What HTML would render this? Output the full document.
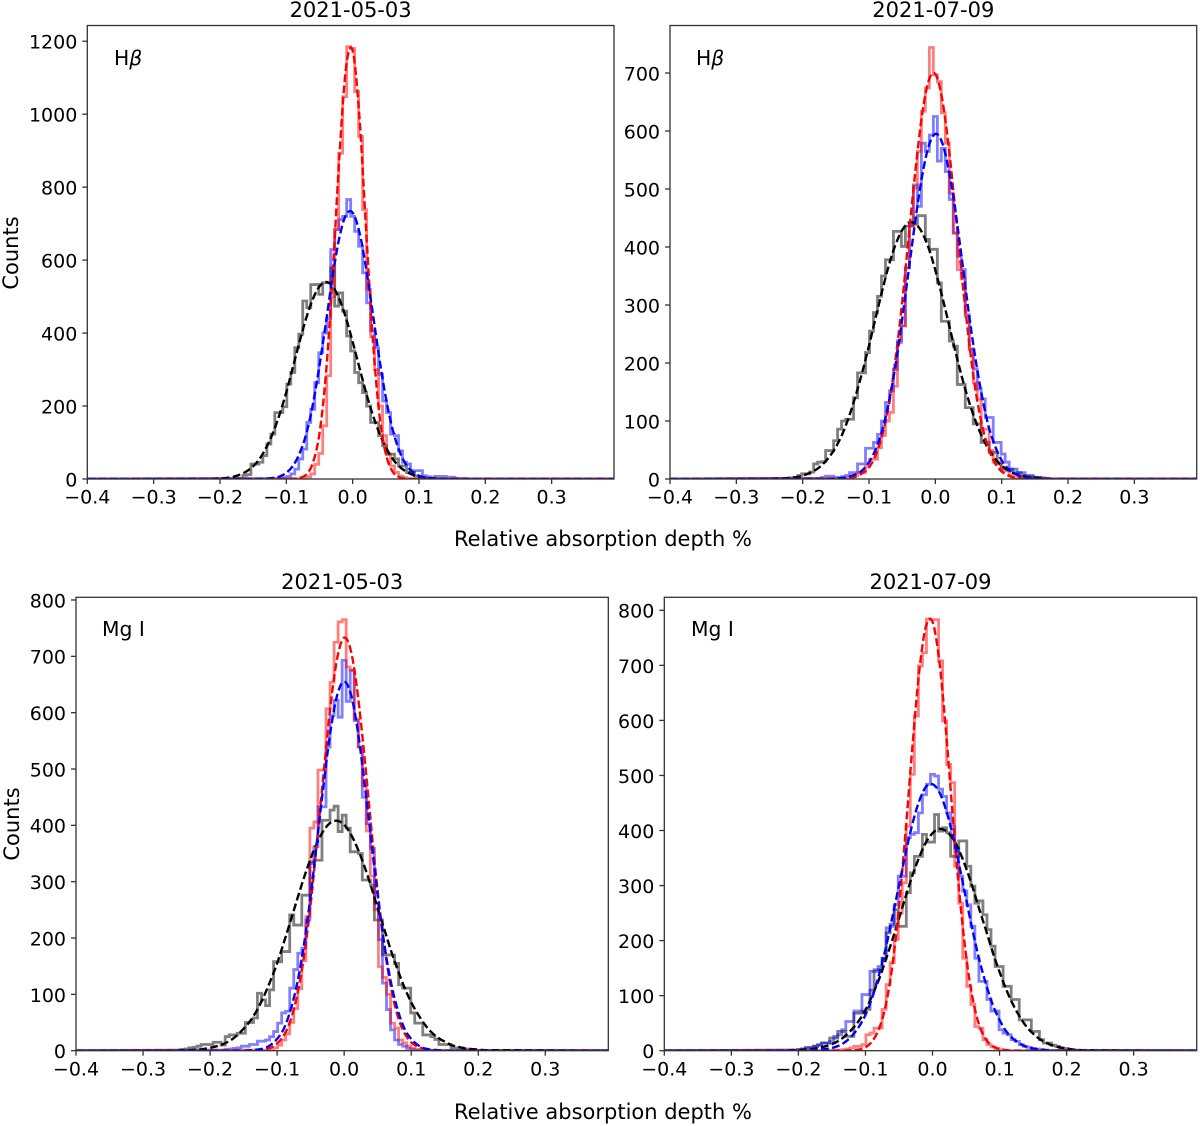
<!DOCTYPE html>
<html lang="en">
<head>
<meta charset="utf-8">
<title>Relative absorption depth histograms</title>
<style>
html,body{margin:0;padding:0;background:#fff;}
svg{display:block;font-family:"DejaVu Sans","Liberation Sans",sans-serif;fill:#000;}
</style>
</head>
<body>
<svg id="figure" xmlns="http://www.w3.org/2000/svg" width="1200" height="1126" viewBox="0 0 1200 1126">
  <rect x="0" y="0" width="1200" height="1126" fill="#fff"/>
  <text x="350.6" y="17" font-size="21" text-anchor="middle">2021-05-03</text>
  <text x="933.3" y="17" font-size="21" text-anchor="middle">2021-07-09</text>
  <text x="342.2" y="589" font-size="21" text-anchor="middle">2021-05-03</text>
  <text x="930.5" y="589" font-size="21" text-anchor="middle">2021-07-09</text>
  <text x="114" y="65" font-size="20.3">H<tspan font-style="italic">β</tspan></text>
  <text x="696" y="65" font-size="20.3">H<tspan font-style="italic">β</tspan></text>
  <text x="102" y="636" font-size="20.3">Mg I</text>
  <text x="691" y="636" font-size="20.3">Mg I</text>
  <text transform="translate(18 253) rotate(-90)" font-size="21" text-anchor="middle">Counts</text>
  <text transform="translate(19 824) rotate(-90)" font-size="21" text-anchor="middle">Counts</text>
  <text x="603" y="546" font-size="21" text-anchor="middle">Relative absorption depth %</text>
  <text x="603" y="1119" font-size="21" text-anchor="middle">Relative absorption depth %</text>
</svg>
<script>
// Shared axis data
const xTickValues = [-0.4, -0.3, -0.2, -0.1, 0, 0.1, 0.2, 0.3];
const xTickLabels = ["\u22120.4", "\u22120.3", "\u22120.2", "\u22120.1", "0.0", "0.1", "0.2", "0.3"];
const yTicksHbetaMay = [0, 200, 400, 600, 800, 1000, 1200];
const yTicksHbetaJuly = [0, 100, 200, 300, 400, 500, 600, 700];
const yTicksMgMay = [0, 100, 200, 300, 400, 500, 600, 700, 800];
const yTicksMgJuly = [0, 100, 200, 300, 400, 500, 600, 700, 800];
const xDomainMin = -0.4;
const xDomainMax = 0.394;
const binWidth = 0.8 / 133;

// Grid on which the dashed fit curves were read
const fitGrid = [-0.26,-0.25,-0.24,-0.23,-0.22,-0.21,-0.20,-0.19,-0.18,-0.17,-0.16,-0.15,-0.14,-0.13,-0.12,-0.11,-0.10,-0.09,-0.08,-0.07,-0.06,-0.05,-0.04,-0.03,-0.02,-0.01,0,0.01,0.02,0.03,0.04,0.05,0.06,0.07,0.08,0.09,0.10,0.11,0.12,0.13,0.14,0.15,0.16,0.17,0.18,0.19,0.20,0.21,0.22];

// Histogram counts; each array begins at the signed bin number in its "first" constant (bin 0 is centred on 0)
const firstHbMayRed = -13;
const histHbMayRed = [1,2,6,14,40,70,146,283,500,684,893,1048,1185,1180,1062,939,738,520,390,300,200,119,68,36,18,8,4,1];
const firstHbMayBlue = -19;
const histHbMayBlue = [1,2,4,7,14,27,55,82,155,191,264,346,400,440,629,684,711,720,766,720,679,638,565,483,406,360,287,214,182,123,119,77,46,41,23,23,23,9,6,4,7,7,7,5,5,2,1,1];
const firstHbMayBlack = -30;
const histHbMayBlack = [1,1,2,10,12,41,41,46,64,96,123,182,182,198,260,292,360,397,488,470,533,533,506,538,538,579,474,510,460,392,351,292,264,237,200,155,155,119,91,68,68,55,36,36,18,18,8,5,3,2,1];

const firstHbJulRed = -24;
const histHbJulRed = [1,1,2,3,6,11,11,22,34,34,54,75,100,115,160,235,264,364,436,502,565,634,674,744,697,685,631,579,493,424,361,345,284,224,166,138,86,86,49,29,29,14,14,6,3,2,1];
const firstHbJulBlue = -30;
const histHbJulBlue = [1,1,3,5,5,3,2,4,6,11,11,26,26,53,53,63,77,100,132,152,189,238,264,364,440,507,470,579,565,593,625,548,570,530,482,424,384,361,281,224,190,155,138,106,106,63,63,43,29,17,17,11,11,5,4,3,2,1];
const firstHbJulBlack = -37;
const histHbJulBlack = [1,2,3,6,9,9,12,26,29,30,49,49,66,86,100,103,103,140,183,183,218,255,287,315,350,378,378,427,427,401,436,436,439,454,454,413,396,396,338,272,272,238,229,163,163,123,123,95,95,63,63,46,46,26,17,17,17,11,11,6,6,6,3,3,2,1];

const firstMgMayRed = -19;
const histMgMayRed = [1,3,5,10,19,30,50,75,110,160,238,395,406,498,498,607,654,725,761,765,681,675,589,539,470,390,310,250,149,130,100,49,40,19,14,8,4,2,1];
const firstMgMayBlue = -30;
const histMgMayBlue = [1,2,3,4,5,8,8,11,11,17,17,19,25,34,49,67,70,111,144,173,182,232,332,362,433,433,539,595,622,592,693,620,675,586,539,450,403,359,262,197,120,73,37,19,11,8,4,2,1];
const firstMgMayBlack = -41;
const histMgMayBlack = [1,2,3,5,6,8,11,11,11,15,15,10,25,28,28,31,31,50,50,58,102,90,80,108,158,158,176,176,241,223,223,276,276,335,338,338,409,409,427,434,389,418,395,353,353,350,303,303,294,232,232,170,170,170,155,117,111,111,67,49,49,28,28,25,20,11,11,11,5,5,5,3,2,1];

const firstMgJulRed = -23;
const histMgJulRed = [1,2,3,5,8,8,11,29,32,41,41,75,120,160,202,250,305,408,502,608,699,723,784,783,783,708,599,520,487,335,268,168,117,84,44,41,20,11,7,4,2,1];
const firstMgJulBlue = -34;
const histMgJulBlue = [1,2,3,4,5,8,11,14,14,17,26,29,38,53,53,72,72,102,102,144,144,153,168,223,226,265,317,317,387,393,396,432,465,484,502,499,475,462,432,408,368,317,290,265,226,168,126,126,93,72,72,38,32,29,20,17,11,8,6,4,3,2,1];
const firstMgJulBlack = -34;
const histMgJulBlack = [1,2,3,6,6,8,10,14,14,23,23,35,35,26,26,68,68,72,75,110,147,147,168,214,230,256,226,226,287,323,353,353,393,379,379,429,399,405,396,353,353,381,381,335,299,268,272,247,220,190,153,153,117,117,93,93,56,56,56,35,35,20,14,14,10,8,5,4,2,1,1];

// Dashed fit curves, read at the fitGrid positions
const fitHbMayRed = [0,0,0,0,0,0,0,0,0,0,0,0,0,0,0,0,0,0,3,12,44,125,294,564,884,1128,1174,998,692,393,182,69,21,5,1,0,0,0,0,0,0,0,0,0,0,0,0,0,0];
const fitHbMayBlue = [0,0,0,0,0,0,0,0,0,0,0,0,0,1,3,7,17,36,70,123,204,311,432,558,662,724,730,678,581,459,334,223,138,79,41,20,9,4,1,0,0,0,0,0,0,0,0,0,0];
const fitHbMayBlack = [0,0,0,0,0,1,2,3,6,12,21,35,56,87,127,178,238,307,376,441,493,528,540,528,493,441,376,307,238,178,127,87,56,35,21,12,6,3,2,1,0,0,0,0,0,0,0,0,0];

const fitHbJulRed = [0,0,0,0,0,0,0,0,0,0,0,0,1,2,4,10,20,41,76,129,207,305,420,532,628,687,698,657,574,465,349,245,157,95,53,27,13,6,2,1,0,0,0,0,0,0,0,0,0];
const fitHbJulBlue = [0,0,0,0,0,0,0,0,0,0,0,1,2,4,8,15,29,51,84,133,196,275,361,447,522,574,595,581,534,464,379,290,211,145,92,57,32,17,9,4,2,1,0,0,0,0,0,0,0];
const fitHbJulBlack = [0,0,1,1,2,3,6,10,16,25,38,55,78,108,144,185,230,278,325,369,404,429,442,440,425,398,360,316,269,221,176,136,102,74,52,35,23,15,9,6,3,2,1,0,0,0,0,0,0];

const fitMgMayRed = [0,0,0,0,0,0,0,0,0,0,0,0,0,1,2,5,13,27,54,99,167,260,378,500,616,699,733,710,635,525,401,283,185,111,61,31,15,7,3,1,0,0,0,0,0,0,0,0,0];
const fitMgMayBlue = [0,0,0,0,0,0,0,0,0,0,0,0,1,2,4,10,21,39,72,120,188,275,377,479,570,633,655,633,570,479,377,275,188,120,72,39,21,10,4,2,1,0,0,0,0,0,0,0,0];
const fitMgMayBlack = [0,0,1,1,2,3,5,8,12,18,27,39,53,72,96,124,155,192,230,269,307,341,370,392,405,408,401,384,359,328,292,253,215,177,143,112,86,65,47,33,23,16,10,7,4,3,2,1,1];

const fitMgJulRed = [0,0,0,0,0,0,0,0,0,0,0,0,0,0,1,2,6,17,39,81,153,262,400,552,687,770,779,709,582,429,287,173,94,45,20,8,3,1,0,0,0,0,0,0,0,0,0,0,0];
const fitMgJulBlue = [0,0,0,0,0,0,0,0,1,1,3,5,9,16,27,43,65,96,137,185,242,300,359,412,453,479,484,470,438,392,336,276,217,164,120,83,56,35,22,13,7,4,2,1,0,0,0,0,0];
const fitMgJulBlack = [0,0,0,0,0,1,1,2,3,5,8,12,18,27,39,54,74,100,129,164,201,240,280,318,351,378,395,403,399,386,363,332,296,256,218,178,143,111,84,62,44,31,21,14,9,6,4,2,1];

// Panel wiring: layout is separate from the data above
const panels = [
  { id: "hbeta-2021-05-03", left: 87.3, right: 614, top: 25.5, bottom: 479, yPerCount: 0.3648, yTicks: yTicksHbetaMay,
    hist: { black: [firstHbMayBlack, histHbMayBlack], blue: [firstHbMayBlue, histHbMayBlue], red: [firstHbMayRed, histHbMayRed] },
    fit: { black: fitHbMayBlack, red: fitHbMayRed, blue: fitHbMayBlue } },
  { id: "hbeta-2021-07-09", left: 670, right: 1196.7, top: 25.5, bottom: 479, yPerCount: 0.58, yTicks: yTicksHbetaJuly,
    hist: { black: [firstHbJulBlack, histHbJulBlack], blue: [firstHbJulBlue, histHbJulBlue], red: [firstHbJulRed, histHbJulRed] },
    fit: { black: fitHbJulBlack, red: fitHbJulRed, blue: fitHbJulBlue } },
  { id: "mg-2021-05-03", left: 76, right: 608.3, top: 597.3, bottom: 1050.7, yPerCount: 0.5634, yTicks: yTicksMgMay,
    hist: { black: [firstMgMayBlack, histMgMayBlack], blue: [firstMgMayBlue, histMgMayBlue], red: [firstMgMayRed, histMgMayRed] },
    fit: { black: fitMgMayBlack, red: fitMgMayRed, blue: fitMgMayBlue } },
  { id: "mg-2021-07-09", left: 664.3, right: 1196.7, top: 597.3, bottom: 1050.7, yPerCount: 0.5505, yTicks: yTicksMgJuly,
    hist: { black: [firstMgJulBlack, histMgJulBlack], blue: [firstMgJulBlue, histMgJulBlue], red: [firstMgJulRed, histMgJulRed] },
    fit: { black: fitMgJulBlack, red: fitMgJulRed, blue: fitMgJulBlue } }
];

const SVG_NS = "http://www.w3.org/2000/svg";
const svg = document.getElementById("figure");
const strokeColors = { black: "#000000", blue: "#0000ff", red: "#ff0000" };
const frameColor = "#333333";

function make(tag, attrs, parent) {
  const el = document.createElementNS(SVG_NS, tag);
  for (const key in attrs) el.setAttribute(key, attrs[key]);
  parent.appendChild(el);
  return el;
}
function num(v) { return v.toFixed(2); }

function histPath(first, counts, xAt, yAt) {
  let d = "M" + num(xAt(xDomainMin)) + " " + num(yAt(0));
  counts.forEach(function (count, i) {
    const bin = first + i;
    const x0 = xAt((bin - 0.5) * binWidth);
    const x1 = xAt((bin + 0.5) * binWidth);
    d += "L" + num(x0) + " " + num(yAt(count)) + "L" + num(x1) + " " + num(yAt(count));
  });
  const lastEdge = xAt((first + counts.length - 0.5) * binWidth);
  d += "L" + num(lastEdge) + " " + num(yAt(0)) + "L" + num(xAt(0.4)) + " " + num(yAt(0));
  return d;
}

function fitPath(values, xAt, yAt) {
  const pts = [[xAt(xDomainMin), yAt(0)]];
  values.forEach(function (v, i) { pts.push([xAt(fitGrid[i]), yAt(v)]); });
  pts.push([xAt(xDomainMax), yAt(0)]);
  let d = "M" + num(pts[0][0]) + " " + num(pts[0][1]);
  for (let i = 0; i < pts.length - 1; i++) {
    const p0 = pts[Math.max(i - 1, 0)], p1 = pts[i], p2 = pts[i + 1], p3 = pts[Math.min(i + 2, pts.length - 1)];
    const span = p2[0] - p1[0];
    const tan1 = (p2[1] - p0[1]) / (p2[0] - p0[0]);
    const tan2 = (p3[1] - p1[1]) / (p3[0] - p1[0]);
    d += "C" + num(p1[0] + span / 3) + " " + num(p1[1] + tan1 * span / 3) + " " +
         num(p2[0] - span / 3) + " " + num(p2[1] - tan2 * span / 3) + " " +
         num(p2[0]) + " " + num(p2[1]);
  }
  return d;
}

panels.forEach(function (panel, index) {
  const xAt = function (v) { return panel.left + (v - xDomainMin) * (panel.right - panel.left) / (xDomainMax - xDomainMin); };
  const yAt = function (c) { return panel.bottom - c * panel.yPerCount; };

  const group = make("g", {}, svg);
  
  

  const clip = make("clipPath", { id: "clip-" + index }, group);
  make("rect", { x: panel.left, y: panel.top, width: panel.right - panel.left, height: panel.bottom - panel.top }, clip);

  const plot = make("g", { "clip-path": "url(#clip-" + index + ")" }, group);

  ["black", "blue", "red"].forEach(function (series) {
    const spec = panel.hist[series];
    const outline = make("path", {
      d: histPath(spec[0], spec[1], xAt, yAt),
      fill: "none", stroke: strokeColors[series], "stroke-opacity": 0.5, "stroke-width": 2.8, "stroke-linejoin": "miter"
    }, plot);
    
    
  });

  ["black", "red", "blue"].forEach(function (series) {
    const curve = make("path", {
      d: fitPath(panel.fit[series], xAt, yAt),
      fill: "none", stroke: strokeColors[series], "stroke-width": 2.4, "stroke-dasharray": "7.8 3.4"
    }, plot);
    
    
  });

  const frame = make("rect", {
    x: panel.left, y: panel.top, width: panel.right - panel.left, height: panel.bottom - panel.top,
    fill: "none", stroke: frameColor, "stroke-width": 1.3
  }, group);
  
  

  xTickValues.forEach(function (value, i) {
    const x = xAt(value);
    const tick = make("line", { x1: x, x2: x, y1: panel.bottom, y2: panel.bottom + 5, stroke: frameColor, "stroke-width": 1.3 }, group);
    
    
    const label = make("text", { x: x, y: panel.bottom + 24.7, "font-size": 19, "text-anchor": "middle" }, group);
    
    
    label.textContent = xTickLabels[i];
  });

  panel.yTicks.forEach(function (value) {
    const y = yAt(value);
    const tick = make("line", { x1: panel.left - 5, x2: panel.left, y1: y, y2: y, stroke: frameColor, "stroke-width": 1.3 }, group);
    
    
    const label = make("text", { x: panel.left - 10, y: y + 7.4, "font-size": 19, "text-anchor": "end" }, group);
    
    
    label.textContent = String(value);
  });
});
</script>
</body>
</html>
